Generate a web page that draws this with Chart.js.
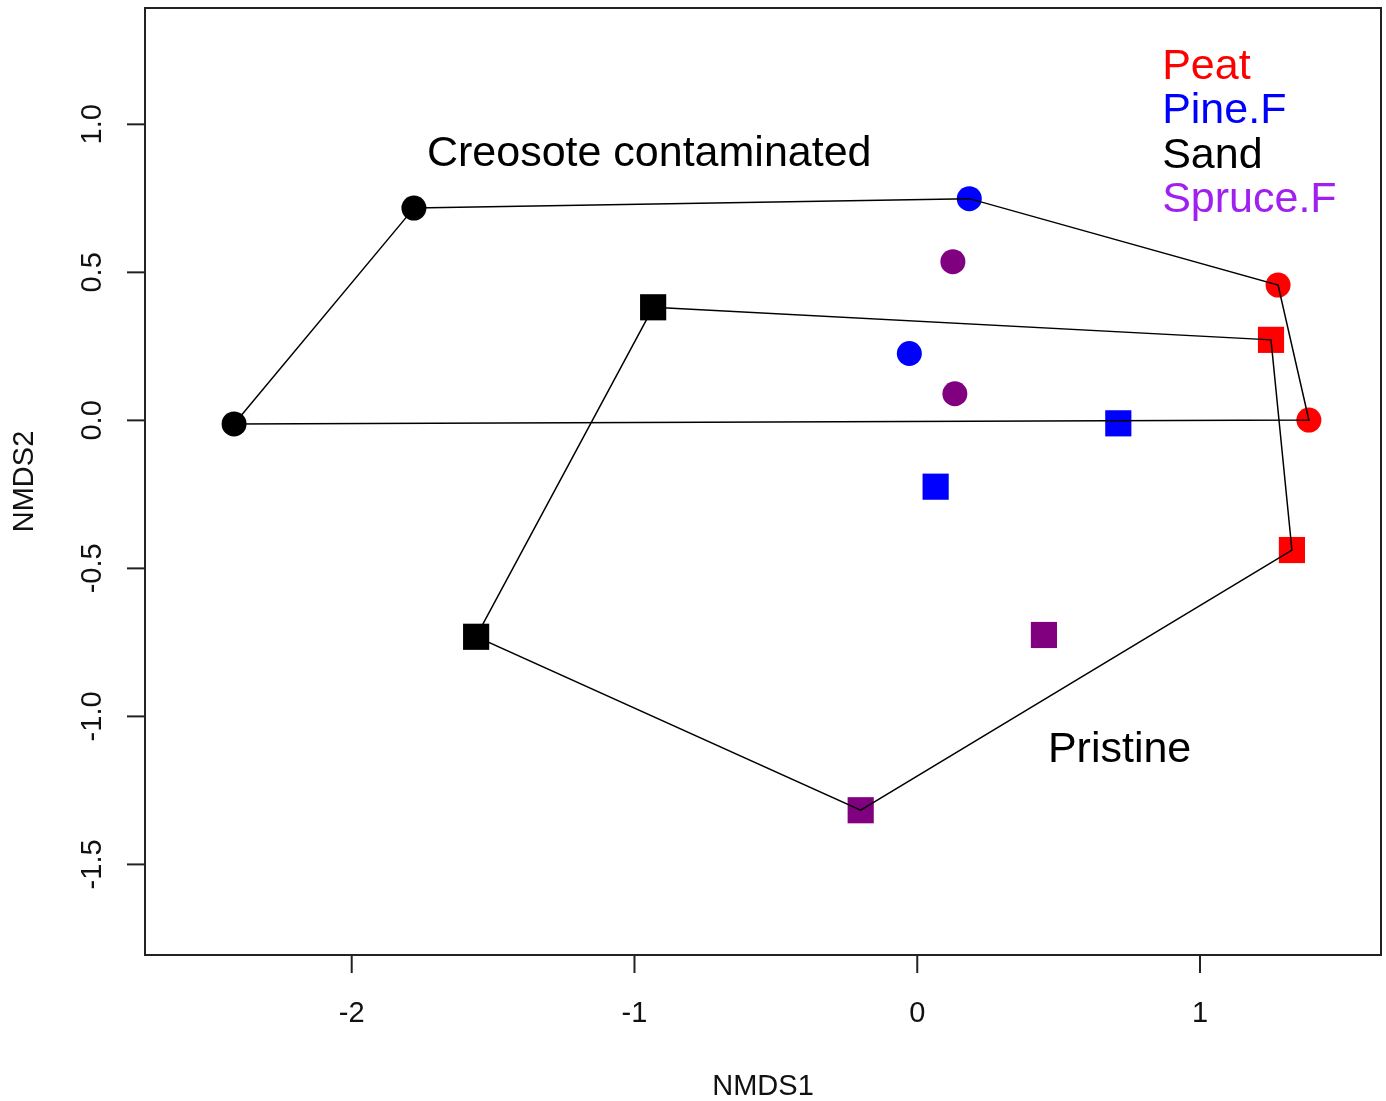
<!DOCTYPE html>
<html>
<head>
<meta charset="utf-8">
<script src="https://cdn.jsdelivr.net/npm/chart.js@4/dist/chart.umd.min.js"></script>
<style>
  html, body { margin: 0; padding: 0; background: #fff; overflow: hidden; }
  #wrap { width: 1386px; height: 1101px; position: relative; }
  #nmds { display: block; width: 1386px; height: 1101px; }
</style>
</head>
<body>
<div id="wrap"><canvas id="nmds" width="1386" height="1101"></canvas></div>
<script>
// NMDS ordination, two sample groups, four site types
const sites = ['Peat', 'Pine.F', 'Sand', 'Spruce.F'];
const pointColors = { 'Peat': '#ff0000', 'Pine.F': '#0000ff', 'Sand': '#000000', 'Spruce.F': '#800080' };
const legendColors = ['#ff0000', '#0000ff', '#000000', '#a020f0'];

// creosote contaminated samples (circles)
const creosoteSite = ['Peat', 'Peat', 'Pine.F', 'Pine.F', 'Sand', 'Sand', 'Spruce.F', 'Spruce.F'];
const creosoteX = [1.276, 1.385, 0.184, -0.028, -1.780, -2.416, 0.126, 0.133];
const creosoteY = [0.457, 0.001, 0.749, 0.226, 0.717, -0.012, 0.536, 0.090];
const creosoteHull = [4, 2, 0, 1, 5];

// pristine samples (squares)
const pristineSite = ['Peat', 'Peat', 'Pine.F', 'Pine.F', 'Sand', 'Sand', 'Spruce.F', 'Spruce.F'];
const pristineX = [1.251, 1.325, 0.711, 0.065, -0.934, -1.560, 0.448, -0.200];
const pristineY = [0.272, -0.438, -0.010, -0.224, 0.382, -0.731, -0.725, -1.317];
const pristineHull = [4, 0, 1, 7, 5];

const xTicks = [-2, -1, 0, 1];
const yTicks = [-1.5, -1.0, -0.5, 0.0, 0.5, 1.0];
const xRange = [-2.731, 1.640];
const yRange = [-1.806, 1.393];

const FONT = '"Liberation Sans", Arial, sans-serif';

function pointsOf(xs, ys, labels, site) {
    const out = [];
    xs.forEach((x, i) => { if (labels[i] === site) out.push({ x: x, y: ys[i] }); });
    return out;
}

function hullOf(xs, ys, idx) {
    const pts = idx.map(i => ({ x: xs[i], y: ys[i] }));
    pts.push(pts[0]);
    return pts;
}

const datasets = [];
sites.forEach(s => {
    datasets.push({ label: s + ' creosote', data: pointsOf(creosoteX, creosoteY, creosoteSite, s),
        pointStyle: 'circle', pointRadius: 12.5, pointBorderWidth: 0,
        pointBackgroundColor: pointColors[s], showLine: false, order: 2 });
    datasets.push({ label: s + ' pristine', data: pointsOf(pristineX, pristineY, pristineSite, s),
        pointStyle: 'rect', pointRadius: 18.5, pointBorderWidth: 0,
        pointBackgroundColor: pointColors[s], showLine: false, order: 2 });
});
[hullOf(creosoteX, creosoteY, creosoteHull), hullOf(pristineX, pristineY, pristineHull)].forEach(h => {
    datasets.push({ data: h, showLine: true, borderColor: '#000', borderWidth: 1.5,
        pointRadius: 0, fill: false, tension: 0, order: 0 });
});

// axes, box and texts drawn R-style
const rFrame = {
    id: 'rFrame',
    afterDraw(chart) {
        const ctx = chart.ctx, a = chart.chartArea;
        const xs = chart.scales.x, ys = chart.scales.y;
        ctx.save();
        ctx.strokeStyle = '#222'; ctx.lineWidth = 2;
        ctx.strokeRect(a.left, a.top, a.right - a.left, a.bottom - a.top);

        ctx.fillStyle = '#111'; ctx.font = '29px ' + FONT;
        ctx.textAlign = 'center'; ctx.textBaseline = 'middle';
        xTicks.forEach(t => {
            const px = xs.getPixelForValue(t);
            ctx.beginPath(); ctx.moveTo(px, a.bottom); ctx.lineTo(px, a.bottom + 18); ctx.stroke();
            ctx.fillText(String(t), px, a.bottom + 59);
        });
        yTicks.forEach(t => {
            const py = ys.getPixelForValue(t);
            ctx.beginPath(); ctx.moveTo(a.left, py); ctx.lineTo(a.left - 18, py); ctx.stroke();
            ctx.save(); ctx.translate(a.left - 52, py); ctx.rotate(-Math.PI / 2);
            ctx.fillText(t.toFixed(1), 0, 0); ctx.restore();
        });
        ctx.fillText('NMDS1', (a.left + a.right) / 2, 1087);
        ctx.save(); ctx.translate(25, (a.top + a.bottom) / 2); ctx.rotate(-Math.PI / 2);
        ctx.fillText('NMDS2', 0, 0); ctx.restore();

        ctx.font = '43px ' + FONT; ctx.textAlign = 'left'; ctx.fillStyle = '#000';
        ctx.fillText('Creosote contaminated', xs.getPixelForValue(-1.734), ys.getPixelForValue(0.899));
        ctx.fillText('Pristine', xs.getPixelForValue(0.462), ys.getPixelForValue(-1.114));

        sites.forEach((s, i) => {
            ctx.fillStyle = legendColors[i];
            ctx.fillText(s, xs.getPixelForValue(0.866), ys.getPixelForValue(1.193 - i * 0.150));
        });
        ctx.restore();
    }
};

new Chart(document.getElementById('nmds').getContext('2d'), {
    type: 'scatter',
    data: { datasets: datasets },
    options: {
        responsive: false, maintainAspectRatio: false,
        animation: false,
        layout: { autoPadding: false, padding: { left: 145, right: 5, top: 8, bottom: 146 } },
        plugins: { legend: { display: false }, tooltip: { enabled: false } },
        scales: {
            x: { type: 'linear', display: false, min: xRange[0], max: xRange[1] },
            y: { type: 'linear', display: false, min: yRange[0], max: yRange[1] }
        }
    },
    plugins: [rFrame]
});
</script>
</body>
</html>
